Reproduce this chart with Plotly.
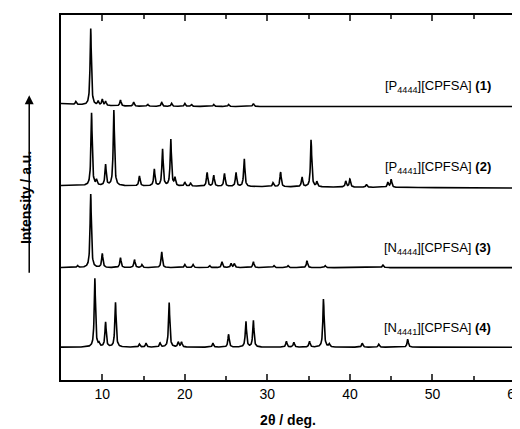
import numpy as np
import plotly.graph_objects as go

names = ["[P<sub>4444</sub>][CPFSA] <b>(1)</b>", "[P<sub>4441</sub>][CPFSA] <b>(2)</b>",
         "[N<sub>4444</sub>][CPFSA] <b>(3)</b>", "[N<sub>4441</sub>][CPFSA] <b>(4)</b>"]
offsets = [275, 193, 113, 33]
pos1 = [6.8, 8.6, 9.5, 10.0, 10.4, 12.2, 13.8, 15.5, 17.2, 18.4, 20.0, 20.8, 23.5, 25.3, 28.3]
hgt1 = [3, 77, 4, 6, 4, 6, 4, 2, 4, 3, 3, 2, 2, 2, 3]
pos2 = [8.7, 9.3, 10.4, 11.4, 14.5, 16.3, 17.3, 18.3, 18.8, 20.0, 20.7, 22.7, 23.5, 24.8, 26.2, 27.2, 30.7, 31.6, 34.2, 35.3, 36.0, 39.5, 40.0, 42.0, 44.6, 45.0]
hgt2 = [73, 5, 21, 76, 10, 17, 37, 47, 8, 4, 3, 14, 11, 13, 14, 28, 4, 15, 10, 48, 5, 6, 8, 3, 5, 8]
pos3 = [7.0, 8.6, 10.0, 12.2, 13.9, 14.8, 17.2, 20.0, 21.0, 23.0, 24.5, 25.6, 26.0, 28.3, 30.8, 32.5, 34.8, 37.0, 44.0]
hgt3 = [2, 74, 14, 10, 8, 3, 16, 3, 3, 2, 6, 4, 4, 6, 2, 2, 7, 2, 3]
pos4 = [9.1, 9.6, 10.4, 11.6, 14.5, 15.3, 17.0, 18.1, 19.2, 19.6, 23.4, 25.3, 27.4, 28.3, 32.3, 33.2, 35.1, 36.8, 37.5, 41.5, 43.5, 47.0]
hgt4 = [69, 3, 25, 45, 3, 4, 4, 45, 5, 5, 4, 13, 26, 27, 6, 5, 6, 49, 3, 4, 3, 8]
peaks = [(pos1, hgt1), (pos2, hgt2), (pos3, hgt3), (pos4, hgt4)]

x = np.linspace(5, 60, 2200)
fig = go.Figure()
for (p, h), off in zip(peaks, offsets):
    y = np.full_like(x, off, dtype=float)
    if off == 275:
        y += 3 * np.exp(-(x - 5) / 4)
    if off == 193:
        y += 2.5 * (60 - x) / 55
    for pp, hh in zip(p, h):
        w = 0.09
        y += hh / (1 + ((x - pp) / w) ** 2)
    fig.add_trace(go.Scatter(x=x, y=y, mode="lines", line=dict(color="black", width=1.6),
                             showlegend=False, hoverinfo="skip"))
label_y = [295, 214, 132, 52]
for n, ly in zip(names, label_y):
    fig.add_annotation(x=57.3, y=ly, text=n, showarrow=False, xanchor="right",
                       font=dict(size=13, color="black", family="Arial, Liberation Sans"))

fig.add_annotation(x=-0.07, y=0.78, ax=-0.07, ay=0.29, xref="x domain", yref="y domain",
                   axref="x domain", ayref="y domain", text="", showarrow=True,
                   arrowhead=2, arrowsize=1.2, arrowwidth=1.5, arrowcolor="black")
fig.add_annotation(x=-0.1, y=0.5, xref="paper", yref="paper", text="<b>Intensity / a.u.</b>",
                   textangle=-90, showarrow=False, font=dict(size=14, color="black"))

fig.update_layout(width=520, height=429, margin=dict(l=53, r=10, t=5, b=57),
                  plot_bgcolor="white", paper_bgcolor="white",
                  font=dict(family="Arial, Liberation Sans", color="black"))
fig.update_xaxes(range=[5, 60], dtick=10, ticks="inside", ticklen=6, tickwidth=1.5,
                 showline=True, linewidth=2, linecolor="black", mirror="ticks",
                 showgrid=False, zeroline=False,
                 minor=dict(dtick=5, ticks="inside", ticklen=4, tickwidth=1.5, showgrid=False),
                 tickfont=dict(size=14, family="Arial Black, Liberation Sans"),
                 title=dict(text="<b>2θ / deg.</b>", font=dict(size=14), standoff=14))
fig.update_yaxes(range=[0, 367], showticklabels=False, ticks="", showline=True, linewidth=2,
                 linecolor="black", mirror=True, showgrid=False, zeroline=False)
fig.write_html("out.html")
